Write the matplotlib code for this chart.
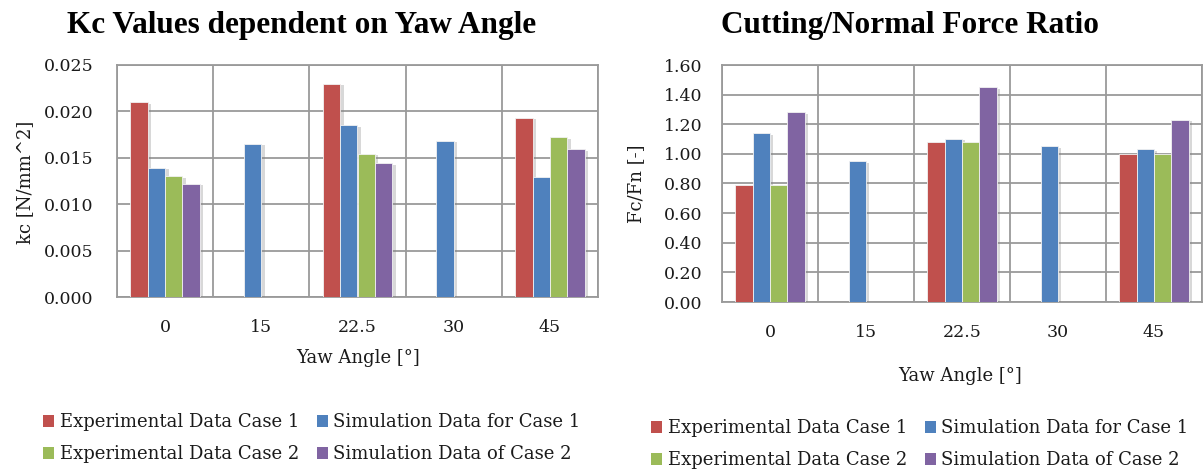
import numpy as np
import matplotlib
matplotlib.use("Agg")
import matplotlib.pyplot as plt
import matplotlib.patheffects as pe
from matplotlib.patches import Patch

nan = np.nan
categories = ["0", "15", "22.5", "30", "45"]
series_names = ["Experimental Data Case 1", "Simulation Data for Case 1",
                "Experimental Data Case 2", "Simulation Data of Case 2"]
colors = ["#C0504D", "#4F81BD", "#9BBB59", "#8064A2"]

# kc values [N/mm^2]
kc_exp1 = [0.0210, nan, 0.0230, nan, 0.0193]
kc_sim1 = [0.0139, 0.0165, 0.0185, 0.0168, 0.0129]
kc_exp2 = [0.0130, nan, 0.0154, nan, 0.0172]
kc_sim2 = [0.0122, nan, 0.0144, nan, 0.0159]

# Fc/Fn ratio
ratio_exp1 = [0.79, nan, 1.08, nan, 1.00]
ratio_sim1 = [1.14, 0.95, 1.10, 1.05, 1.03]
ratio_exp2 = [0.79, nan, 1.08, nan, 1.00]
ratio_sim2 = [1.28, nan, 1.45, nan, 1.23]

W, H = 1203, 473
fig = plt.figure(figsize=(W / 100, H / 100), dpi=100)

tick_font = "DejaVu Serif"
text_color = "#1a1a1a"
grid_color = "#9a9a9a"


def px_axes(left, top, right, bottom):
    return fig.add_axes([left / W, 1 - bottom / H, (right - left) / W, (bottom - top) / H])


def draw_bars(ax, data, ymax, step, fmt, ypad):
    x = np.arange(len(categories))
    bw = 0.18
    for i, (vals, c) in enumerate(zip(data, colors)):
        vals = np.array(vals, dtype=float)
        ok = ~np.isnan(vals)
        bars = ax.bar(x[ok] + (i - 1.5) * bw, vals[ok], bw, color=c,
                      edgecolor="#f2f2f2", linewidth=0.6, zorder=3)
        for b in bars:
            b.set_path_effects([pe.SimplePatchShadow(offset=(2.5, -1), shadow_rgbFace="#808080", alpha=0.3),
                                pe.Normal()])
    ax.set_xlim(-0.5, len(categories) - 0.5)
    ax.set_ylim(0, ymax)
    ticks = np.arange(0, ymax + step / 2, step)
    ax.set_yticks(ticks)
    ax.set_yticklabels([fmt.format(v) for v in ticks])
    ax.set_xticks(x)
    ax.set_xticklabels(categories)
    ax.set_xticks(np.arange(-0.5, len(categories)), minor=True)
    ax.grid(axis="y", which="major", color=grid_color, lw=1.3, zorder=0)
    ax.grid(axis="x", which="minor", color=grid_color, lw=1.3, zorder=0)
    ax.tick_params(which="both", length=0, labelsize=12.5, labelcolor=text_color)
    ax.tick_params(axis="x", pad=16)
    ax.tick_params(axis="y", pad=ypad)
    for lab in ax.get_xticklabels() + ax.get_yticklabels():
        lab.set_fontfamily(tick_font)
    for s in ax.spines.values():
        s.set_color(grid_color)
        s.set_linewidth(1.3)


ax1 = px_axes(117, 65, 598, 297)
draw_bars(ax1, [kc_exp1, kc_sim1, kc_exp2, kc_sim2], 0.025, 0.005, "{:.3f}", 17)
ax2 = px_axes(722, 65, 1202, 302)
draw_bars(ax2, [ratio_exp1, ratio_sim1, ratio_exp2, ratio_sim2], 1.6, 0.2, "{:.2f}", 14)

title_kw = dict(fontfamily="Liberation Serif", fontweight="bold", fontsize=22.5,
                color="black", ha="center", va="center")
fig.text(302 / W, 1 - 25 / H, "Kc Values dependent on Yaw Angle", **title_kw)
fig.text(910 / W, 1 - 25 / H, "Cutting/Normal Force Ratio", **title_kw)

lab_kw = dict(fontfamily=tick_font, fontsize=13, color=text_color, ha="center", va="center")
fig.text(25 / W, 1 - 182 / H, "kc [N/mm^2]", rotation=90, **lab_kw)
fig.text(636 / W, 1 - 184 / H, "Fc/Fn [-]", rotation=90, **lab_kw)
fig.text(358 / W, 1 - 358 / H, "Yaw Angle [°]", **lab_kw)
fig.text(960 / W, 1 - 376 / H, "Yaw Angle [°]", **lab_kw)

handles = [Patch(facecolor=c, edgecolor="none") for c in colors]
order = [0, 2, 1, 3]
leg_kw = dict(ncol=2, frameon=False, handlelength=0.6, handleheight=0.6,
              handletextpad=0.3, columnspacing=1.0, labelspacing=0.78,
              prop={"family": tick_font, "size": 13}, labelcolor=text_color,
              loc="upper left")
fig.legend([handles[i] for i in order], [series_names[i] for i in order],
           bbox_to_anchor=(27 / W, 1 - 397 / H), **leg_kw)
fig.legend([handles[i] for i in order], [series_names[i] for i in order],
           bbox_to_anchor=(635 / W, 1 - 403 / H), **leg_kw)

fig.savefig("out.png", dpi=100, facecolor="white")
